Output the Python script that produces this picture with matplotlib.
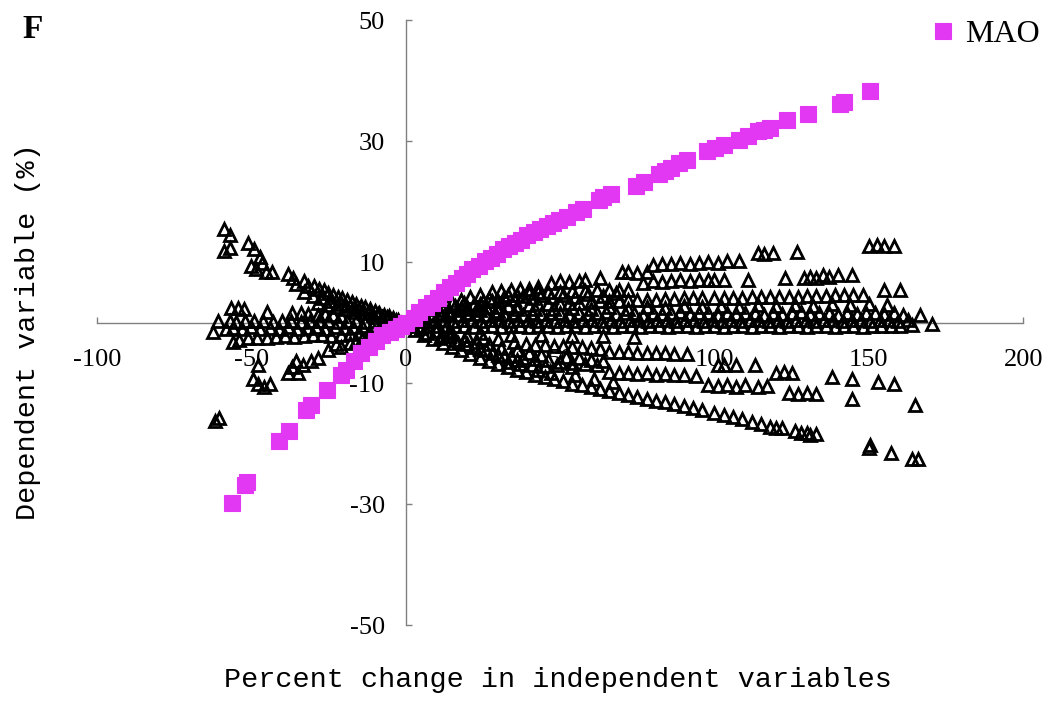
import matplotlib
matplotlib.use("Agg")
import matplotlib.pyplot as plt

plt.rcParams['axes.unicode_minus'] = False

# MAO series (x = % change in independent variable, y = % change in dependent variable)
mao = [(-56.2, -29.8), (-52.0, -26.9), (-51.3, -26.3), (-40.9, -19.5), (-37.7, -17.9),
       (-32.1, -14.5), (-30.5, -13.6), (-25.3, -11.1), (-20.8, -8.6), (-19.2, -7.8),
       (-16.6, -6.3), (-14.3, -5.1), (-12.0, -4.0), (-9.7, -3.0), (-7.5, -2.1),
       (-5.2, -1.5), (-3.2, -1.0), (-1.6, -0.5), (0, 0), (2.6, 0.8), (4.5, 1.7),
       (6.5, 2.5), (8.4, 3.3), (10.4, 4.1), (12.3, 5.0), (14.3, 5.8), (16.2, 6.6),
       (18.2, 7.3), (19.8, 8.1), (21.4, 8.8), (23.7, 9.4), (25.6, 10.1), (27.6, 10.7),
       (29.5, 11.3), (31.5, 12.1), (33.4, 12.6), (35.4, 13.2), (37.3, 13.7), (39.3, 14.4),
       (41.6, 14.9), (43.5, 15.5), (45.8, 16.0), (47.7, 16.5), (49.7, 17.0), (52.3, 17.5),
       (55.2, 18.2), (57.5, 18.8), (62.7, 20.2), (64.0, 20.7), (66.6, 21.3), (74.7, 22.6),
       (77.3, 23.3), (82.1, 24.6), (84.1, 25.1), (86.0, 25.6), (88.6, 26.3), (91.2, 26.8),
       (97.7, 28.3), (100.3, 28.8), (103.0, 29.4), (108.0, 30.1), (111.0, 30.9),
       (114.0, 31.6), (116.0, 31.9), (117.9, 32.2), (123.4, 33.4), (130.2, 34.5),
       (140.6, 36.2), (142.0, 36.5), (150.3, 38.3)]

# other variables (open triangles), grouped by the ray they sit on
left_upper = [(-58.8, 15.4), (-56.8, 14.5), (-58.8, 11.9), (-56.8, 12.4), (-51.0, 13.1),
              (-49.0, 12.2), (-50.0, 9.4), (-48.4, 8.9), (-47.1, 10.9), (-46.4, 9.9),
              (-45.1, 8.3), (-43.2, 8.4), (-38.0, 8.1), (-36.4, 7.4), (-35.4, 6.4),
              (-32.8, 6.9), (-31.5, 6.1), (-29.5, 6.0), (-28.0, 5.6), (-26.5, 5.3),
              (-25.0, 4.9), (-23.5, 4.6), (-22.0, 4.3), (-20.5, 4.0), (-19.0, 3.7),
              (-17.5, 3.4), (-16.0, 3.1), (-14.5, 2.8), (-13.0, 2.5), (-11.5, 2.2),
              (-10.0, 1.9), (-8.5, 1.6), (-7.0, 1.3), (-5.5, 1.0), (-4.0, 0.7), (-2.5, 0.4)]
left_upper2 = [(-33.0, 5.0), (-30.0, 4.4), (-27.0, 4.0), (-24.0, 3.6), (-21.0, 3.1),
               (-18.0, 2.7), (-15.0, 2.3), (-12.0, 1.8), (-9.0, 1.4), (-6.0, 0.9), (-3.0, 0.5),
               (-28.5, 3.2), (-25.5, 2.9), (-22.5, 2.5), (-19.5, 2.2), (-16.5, 1.8),
               (-13.5, 1.5), (-10.5, 1.2), (-7.5, 0.9)]
left_row2 = [(-56.5, 2.4), (-54.2, 2.4), (-52.3, 2.3), (-45.0, 1.8), (-36.7, 1.5),
             (-34.0, 1.5), (-31.5, 1.4), (-28.5, 1.3), (-26.0, 1.4), (-23.5, 1.2), (-21.0, 1.1)]
left_band0 = [(-60.7, 0.2), (-57, 0.3), (-55, 0.1), (-52, 0.2), (-49, 0.3), (-46, 0.2),
              (-43, 0.1), (-40, 0.3), (-37, 0.2), (-34, 0.1), (-31, 0.3), (-28, 0.2),
              (-25, 0.2), (-22, 0.1), (-19, 0.3), (-16, 0.2), (-13, 0.1), (-10, 0.2),
              (-7, 0.1), (-4, 0.1), (-1.5, 0.0)]
left_band1 = [(-62.3, -1.6), (-58, -1.0), (-56, -0.9), (-53, -1.1), (-50, -0.8), (-47, -1.0),
              (-44, -0.9), (-41, -1.1), (-38, -0.8), (-35, -1.0), (-32, -0.9), (-29, -0.8),
              (-26, -1.0), (-23, -0.7), (-20, -0.9), (-17, -0.8), (-14, -0.6), (-11, -0.7),
              (-8, -0.5), (-5, -0.4), (-2, -0.3)]
left_band2 = [(-56, -3.2), (-54, -2.9), (-51, -2.6), (-48, -2.5), (-45, -2.6), (-42, -2.4),
              (-39, -2.2), (-36, -2.4), (-33, -2.3), (-30, -2.1), (-27, -2.0), (-24, -2.2),
              (-21, -2.0), (-18, -1.9), (-15, -1.7), (-12, -1.5), (-9, -1.2), (-6, -0.9),
              (-3, -0.5)]
left_lower = [(-61.7, -16.2), (-60.3, -15.8), (-49.4, -9.3), (-47.7, -10.2), (-45.8, -10.6),
              (-43.8, -10.1), (-47.7, -7.1), (-38.0, -8.3), (-36.7, -7.4), (-35.4, -6.3),
              (-34.7, -8.3), (-33.1, -7.1), (-30.5, -6.3), (-28.2, -5.8), (-25.0, -4.6),
              (-22.4, -3.6), (-20.8, -4.0), (-18, -3.4), (-16, -3.0), (-14, -2.7), (-12, -2.3),
              (-10, -2.0), (-8, -1.7), (-6, -1.3), (-4, -0.9), (-2, -0.5)]

right_band_hi = [(2, 1.0), (5, 1.1), (8, 1.3), (11, 1.2), (14, 1.4), (17, 1.3), (20, 1.5),
                 (23, 1.4), (26, 1.3), (29, 1.5), (32, 1.4), (35, 1.6), (38, 1.3), (41, 1.5),
                 (44, 1.4), (47, 1.6), (50, 1.5), (53, 1.3), (56, 1.6), (59, 1.4), (62, 1.5),
                 (65, 1.7), (68, 1.4), (71, 1.6), (74, 1.5), (77, 1.3), (80, 1.6), (83, 1.4),
                 (86, 1.5), (89, 1.7), (92, 1.4), (95, 1.5), (98, 1.6), (101, 1.3), (104, 1.5),
                 (107, 1.4), (110, 1.6), (113, 1.5), (116, 1.3), (119, 1.6), (122, 1.4),
                 (125, 1.5), (128, 1.7), (131, 1.4), (134, 1.6), (137, 1.5), (140, 1.3),
                 (143, 1.6), (146, 1.4), (149, 1.5), (152, 1.6), (155, 1.4), (158, 1.5),
                 (161, 1.3), (166.5, 1.2)]
right_band_mid = [(3.5, 0.4), (6.5, 0.3), (9.5, 0.5), (12.5, 0.4), (15.5, 0.3), (18.5, 0.5),
                  (21.5, 0.4), (24.5, 0.3), (27.5, 0.5), (30.5, 0.4), (33.5, 0.2), (36.5, 0.4),
                  (39.5, 0.5), (42.5, 0.3), (45.5, 0.4), (48.5, 0.2), (51.5, 0.5), (54.5, 0.3),
                  (57.5, 0.4), (60.5, 0.5), (63.5, 0.3), (66.5, 0.4), (69.5, 0.2), (72.5, 0.5),
                  (75.5, 0.4), (78.5, 0.3), (81.5, 0.5), (84.5, 0.4), (87.5, 0.2), (90.5, 0.4),
                  (93.5, 0.5), (96.5, 0.3), (99.5, 0.4), (102.5, 0.2), (105.5, 0.5), (108.5, 0.3),
                  (111.5, 0.4), (114.5, 0.5), (117.5, 0.3), (120.5, 0.4), (123.5, 0.2),
                  (126.5, 0.5), (129.5, 0.4), (132.5, 0.3), (135.5, 0.5), (138.5, 0.4),
                  (141.5, 0.2), (144.5, 0.4), (147.5, 0.5), (150.5, 0.3), (153.5, 0.4),
                  (156.5, 0.5), (159.5, 0.3), (162.5, 0.4)]
right_band_lo = [(1, -0.3), (4, -0.5), (7, -0.6), (10, -0.5), (13, -0.7), (16, -0.6),
                 (19, -0.5), (22, -0.7), (25, -0.6), (28, -0.5), (31, -0.7), (34, -0.6),
                 (37, -0.5), (40, -0.7), (43, -0.6), (46, -0.5), (49, -0.7), (52, -0.6),
                 (55, -0.5), (58, -0.7), (61, -0.6), (64, -0.5), (67, -0.7), (70, -0.6),
                 (73, -0.5), (76, -0.7), (79, -0.6), (82, -0.5), (85, -0.7), (88, -0.6),
                 (91, -0.5), (94, -0.7), (97, -0.6), (100, -0.5), (103, -0.7), (106, -0.6),
                 (109, -0.5), (112, -0.7), (115, -0.6), (118, -0.5), (121, -0.7), (124, -0.6),
                 (127, -0.5), (130, -0.7), (133, -0.6), (136, -0.5), (139, -0.7), (142, -0.6),
                 (145, -0.5), (148, -0.7), (151, -0.6), (154, -0.5), (157, -0.6), (160, -0.5),
                 (164, -0.4), (170.5, -0.2)]

ray_top = [(3, 0.9), (6, 1.6), (9, 2.2), (12, 2.8), (15, 3.3), (18, 3.8), (21, 4.2), (24, 4.6),
           (28, 5.0), (31, 5.2), (34, 5.4), (37, 5.5), (40, 5.6), (43, 5.8), (47, 6.6),
           (50, 6.8), (53, 6.7), (56, 6.9), (58, 7.0), (63, 7.4), (70, 8.3), (72, 8.4),
           (75, 8.2), (78, 8.3), (80, 9.5), (83, 9.7), (86, 9.6), (89, 9.8), (92, 9.7),
           (95, 9.9), (98, 10.0), (101, 9.8), (104, 10.1), (108, 10.2), (114, 11.5),
           (116, 11.4), (119, 11.5), (126.6, 11.7), (150, 12.7), (152.5, 12.8), (155, 12.7),
           (158, 12.7)]
ray_up2 = [(20, 2.5), (24, 3.0), (28, 3.5), (33, 4.5), (36, 4.6), (40, 4.8), (43, 5.0),
           (46, 5.0), (50, 5.1), (54, 5.2), (58, 5.2), (62, 5.3), (66, 5.3), (69, 5.4),
           (72, 5.4), (77, 6.6), (80, 6.8), (83, 6.7), (86, 6.9), (89, 7.0), (92, 6.9),
           (95, 7.0), (98, 7.1), (100, 7.0), (103, 7.1), (111, 7.0), (123, 7.4), (129, 7.4),
           (131, 7.5), (133, 7.4), (135, 7.8), (137, 7.5), (140, 7.8), (144.5, 7.8)]
ray_up3 = [(8, 1.4), (11, 1.6), (14, 1.8), (17, 2.0), (20, 2.2), (23, 2.4), (26, 2.5),
           (30, 2.6), (33, 2.7), (36, 2.8), (40, 2.9), (43, 3.0), (46, 3.0), (50, 3.1),
           (53, 3.2), (56, 3.3), (60, 3.4), (63, 3.5), (66, 3.6), (69, 3.6), (72, 3.7),
           (75, 3.7), (78, 3.8), (81, 3.8), (84, 3.9), (87, 3.9), (90, 4.0), (93, 4.0),
           (96, 4.0), (100, 4.0), (103, 4.1), (106, 4.1), (109, 4.1), (112, 4.2), (115, 4.2),
           (118, 4.2), (121, 4.3), (124, 4.3), (127, 4.3), (130, 4.4), (133, 4.4), (136, 4.4),
           (139, 4.5), (142, 4.5), (145, 4.6), (148, 4.6), (155, 5.3), (160, 5.3)]
fan_upper = [(5, 2.0), (9, 2.6), (13, 3.1), (16, 2.7), (19, 3.3), (22, 3.0), (25, 3.6),
             (27, 4.1), (30, 3.6), (32, 4.3), (35, 3.9), (38, 4.4), (41, 4.0), (44, 4.6),
             (47, 4.2), (51, 4.5), (55, 4.3), (59, 4.7), (64, 4.4), (68, 4.8), (6, 0.8),
             (12, 2.1), (18, 2.4), (24, 2.0), (30, 1.9), (36, 2.2), (42, 2.3), (48, 2.2),
             (54, 2.4), (60, 2.2), (66, 2.5), (72, 2.3), (78, 2.6), (84, 2.4), (90, 2.7),
             (96, 2.5), (102, 2.8), (108, 2.6), (114, 2.9), (120, 2.7), (126, 2.9),
             (132, 2.8), (138, 3.0), (144, 2.9), (150, 3.1), (156, 2.9)]

ray_down1 = [(5, -0.9), (10, -1.4), (15, -1.8), (20, -2.2), (25, -2.5), (30, -2.8), (35, -3.2),
             (39, -3.6), (42, -3.7), (45, -3.7), (48, -3.8), (51, -3.9), (54, -4.0), (57, -4.1),
             (60, -4.2), (63, -4.3), (66, -4.8), (69, -4.9), (72, -4.9), (75, -5.0), (78, -5.1),
             (81, -5.0), (84, -5.1), (87, -5.2), (91, -5.2), (101, -7.1), (103, -7.0),
             (107, -7.1), (113, -7.1), (120, -8.3), (122.5, -8.2), (125, -8.3), (138, -9.0),
             (144.5, -9.3), (153, -9.9), (158, -10.1)]
ray_down2 = [(30, -5.4), (34, -5.6), (38, -5.8), (42, -6.0), (46, -6.2), (50, -6.5), (54, -6.7),
             (58, -6.9), (62, -7.1), (66, -8.2), (69, -8.4), (72, -8.3), (75, -8.5), (78, -8.4),
             (81, -8.6), (84, -8.5), (87, -8.7), (90, -8.6), (94, -8.8), (98, -10.3),
             (101, -10.5), (104, -10.4), (107, -10.6), (110, -10.4), (114, -10.6), (117, -10.5),
             (124, -11.7), (127, -11.8), (130, -11.6), (133, -11.8), (144.5, -12.6), (165, -13.7)]
ray_down3 = [(12, -2.2), (16, -2.9), (20, -3.6), (24, -4.3), (28, -5.0), (33, -6.5), (37, -6.9),
             (41, -7.0), (45, -7.2), (49, -7.1), (54, -7.4)]
fan_lower = [(7, -1.7), (11, -2.6), (14, -2.3), (17, -3.4), (19, -2.9), (22, -4.0), (23, -3.2),
             (26, -4.6), (27, -3.6), (31, -4.2), (32, -5.6), (36, -4.6), (36, -6.2),
             (40, -5.0), (43, -7.9), (44, -5.4), (47, -8.3), (52, -5.7), (55, -8.7),
             (56, -5.9), (60, -6.2), (61, -9.3), (64, -6.4), (67, -9.8), (14, -1.4),
             (24, -1.8), (34, -2.0), (44, -2.1), (54, -2.2), (64, -2.3), (74, -2.4)]
ray_bottom = [(3, -1.2), (6, -2.0), (9, -2.7), (12, -3.4), (15, -4.0), (18, -4.6), (21, -5.2),
              (24, -5.8), (27, -6.3), (30, -6.9), (33, -7.3), (36, -7.8), (39, -8.2), (42, -8.6),
              (45, -9.0), (48, -9.4), (51, -9.7), (54, -10.1), (57, -10.4), (60, -10.7),
              (63, -11.0), (66, -11.3), (69, -11.6), (72, -11.9), (75, -12.3), (78, -12.6),
              (81, -12.9), (84, -13.2), (87, -13.5), (90, -13.8), (93, -14.1), (96, -14.5),
              (100, -14.9), (103, -15.3), (106, -15.6), (109, -16.0), (112, -16.4), (115, -16.8),
              (118, -17.2), (120, -17.4), (122, -17.5), (126, -18.0), (128, -18.2), (130, -18.3),
              (131, -18.6), (133, -18.5), (150, -20.8), (150.5, -20.3), (157, -21.5),
              (164, -22.5), (166, -22.5)]

triangle_groups = [left_upper, left_upper2, left_row2, left_band0, left_band1, left_band2,
                   left_lower, right_band_hi, right_band_mid, right_band_lo, ray_top, ray_up2,
                   ray_up3, fan_upper, ray_down1, ray_down2, ray_down3, fan_lower, ray_bottom]

x_ticks = [-100, -50, 0, 50, 100, 150, 200]
y_ticks = [-50, -30, -10, 10, 30, 50]

serif = ['Liberation Serif', 'DejaVu Serif']
mono = ['Liberation Mono', 'DejaVu Sans Mono']
axis_grey = '#808080'
magenta = '#E238F4'

fig = plt.figure(figsize=(10.5, 7.08), dpi=100)
ax = fig.add_axes([0.0921, 0.1172, 0.8825, 0.8545])

for grp in triangle_groups:
    gx = [p[0] for p in grp]
    gy = [p[1] for p in grp]
    ax.plot(gx, gy, linestyle='none', marker='^', markersize=8,
            markerfacecolor='none', markeredgecolor='black', markeredgewidth=2.0, zorder=3)

mx = [p[0] for p in mao]
my = [p[1] for p in mao]
ax.plot(mx, my, linestyle='none', marker='s', markersize=11, color=magenta,
        markeredgecolor=magenta, markeredgewidth=0.8, zorder=4, label='MAO')

ax.set_xlim(-100, 200)
ax.set_ylim(-50, 50)
ax.spines['left'].set_position(('data', 0))
ax.spines['bottom'].set_position(('data', 0))
ax.spines['top'].set_visible(False)
ax.spines['right'].set_visible(False)
for s in ['left', 'bottom']:
    ax.spines[s].set_color(axis_grey)
    ax.spines[s].set_linewidth(1.0)
    ax.spines[s].set_zorder(1)

ax.set_xticks(x_ticks)
ax.set_yticks(y_ticks)
ax.tick_params(axis='both', direction='in', length=4.5, width=1, color=axis_grey)
ax.tick_params(axis='x', pad=19)
ax.tick_params(axis='y', pad=15)
for lab in ax.get_xticklabels() + ax.get_yticklabels():
    lab.set_fontfamily(serif)
    lab.set_fontsize(19)

fig.text(28 / 1050, 1 - 332 / 708, 'Dependent variable (%)', rotation=90,
         ha='center', va='center', fontsize=20.5, family=mono)
fig.text(558 / 1050, 1 - 680 / 708, 'Percent change in independent variables',
         ha='center', va='center', fontsize=20.5, family=mono)
fig.text(22 / 1050, 1 - 29 / 708, 'F', ha='left', va='center', fontsize=24,
         fontweight='bold', family=serif)

leg = ax.legend(loc='upper right', bbox_to_anchor=(1.012, 1.004), bbox_transform=fig.transFigure,
                frameon=False, handlelength=0.6, handletextpad=0.4, borderaxespad=0.3,
                prop={'family': serif, 'size': 23})

fig.savefig('out.png', dpi=100)
